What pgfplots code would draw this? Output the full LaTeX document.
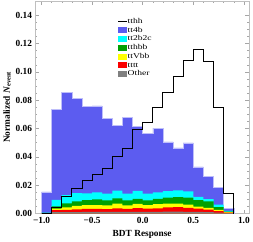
\documentclass[border=0pt]{standalone}
\usepackage{fontspec}
\setmainfont{Liberation Serif}
\usepackage{pgfplots}
\pgfplotsset{compat=1.18}
\definecolor{cBlue}{RGB}{92,92,240}
\definecolor{cBlueEdge}{RGB}{190,190,250}
\definecolor{cCyan}{RGB}{0,255,255}
\definecolor{cGreen}{RGB}{0,160,0}
\definecolor{cYellow}{RGB}{255,255,0}
\definecolor{cRed}{RGB}{250,0,0}
\definecolor{cGrey}{RGB}{128,128,128}
% cumulative tops of the stacked histogram, bins of width 0.1 (left edges)
\pgfplotstableread{
x     blue    cyan    green   yellow  red     other
-1.0  0.0152  0.0006  0.0004  0.0003  0.0002  0.0001
-0.9  0.0735  0.0097  0.0050  0.0034  0.0023  0.0009
-0.8  0.0857  0.0130  0.0072  0.0044  0.0025  0.0010
-0.7  0.0815  0.0143  0.0086  0.0053  0.0030  0.0010
-0.6  0.0757  0.0142  0.0095  0.0060  0.0032  0.0011
-0.5  0.0760  0.0150  0.0099  0.0060  0.0032  0.0011
-0.4  0.0672  0.0141  0.0093  0.0058  0.0031  0.0011
-0.3  0.0621  0.0162  0.0106  0.0069  0.0037  0.0012
-0.2  0.0677  0.0141  0.0093  0.0058  0.0032  0.0011
-0.1  0.0615  0.0160  0.0104  0.0068  0.0038  0.0012
0.0   0.0568  0.0140  0.0092  0.0060  0.0034  0.0011
0.1   0.0603  0.0150  0.0104  0.0066  0.0037  0.0012
0.2   0.0506  0.0158  0.0112  0.0069  0.0043  0.0013
0.3   0.0464  0.0163  0.0116  0.0070  0.0045  0.0013
0.4   0.0499  0.0157  0.0112  0.0062  0.0040  0.0012
0.5   0.0330  0.0118  0.0095  0.0048  0.0035  0.0011
0.6   0.0261  0.0102  0.0085  0.0040  0.0028  0.0009
0.7   0.0182  0.0062  0.0045  0.0025  0.0017  0.0006
0.8   0.0035  0.0018  0.0014  0.0009  0.0006  0.0003
0.9   0.0035  0.0018  0.0014  0.0009  0.0006  0.0003
}\hist
\begin{document}
\begin{tikzpicture}
\begin{axis}[
  scale only axis, width=217pt, height=216pt,
  xmin=-1.06, xmax=1.05, ymin=0, ymax=0.15,
  axis line style={draw=black!25},
  tick style={black!35, line width=0.4pt},
  major tick length=4pt, minor tick length=2pt,
  tick align=inside,
  xtick={-1,-0.5,0,0.5,1},
  xticklabels={−1.0,−0.5,0.0,0.5,1.0},
  minor x tick num=4,
  ytick={0,0.02,0.04,0.06,0.08,0.10,0.12,0.14},
  yticklabels={0.00,0.02,0.04,0.06,0.08,0.10,0.12,0.14},
  minor y tick num=3,
  ticklabel style={font=\bfseries\fontsize{9.5}{10}\selectfont},
  xlabel={\textbf{BDT Response}},
  ylabel={\textbf{Normalized \textit{N}\textsubscript{event}}},
  label style={font=\fontsize{9.5}{11}\selectfont},
  ylabel style={yshift=-2pt},
  legend style={at={(0.385,0.922)}, anchor=north west, draw=none, fill=none,
    font=\fontsize{7.5}{8}\selectfont, row sep=1.2pt, inner sep=0pt,
    nodes={inner sep=0.6pt, text height=5pt, text depth=1.5pt}},
  legend cell align=left,
  legend image code/.code={\fill[#1, draw=none] (0pt,-3pt) rectangle (8.5pt,3pt);},
]
\addlegendimage{legend image code/.code={\draw[black, line width=0.9pt] (0pt,0pt) -- (8.5pt,0pt);}}
\addlegendentry{\scalebox{1.3}[1]{tthh}}
\addlegendimage{fill=cBlue, draw=none}
\addlegendentry{\scalebox{1.3}[1]{tt4b}}
\addlegendimage{fill=cCyan, draw=none}
\addlegendentry{\scalebox{1.3}[1]{tt2b2c}}
\addlegendimage{fill=cGreen, draw=none}
\addlegendentry{\scalebox{1.3}[1]{tthbb}}
\addlegendimage{fill=cYellow, draw=none}
\addlegendentry{\scalebox{1.3}[1]{ttVbb}}
\addlegendimage{fill=cRed, draw=none}
\addlegendentry{\scalebox{1.3}[1]{tttt}}
\addlegendimage{fill=cGrey, draw=none}
\addlegendentry{\scalebox{1.3}[1]{Other}}

\addplot[forget plot, const plot mark left, fill=cBlue, draw=cBlueEdge, line width=0.5pt] table[x=x, y=blue] {\hist} \closedcycle;
\addplot[forget plot, const plot mark left, fill=cCyan, draw=none] table[x=x, y=cyan] {\hist} \closedcycle;
\addplot[forget plot, const plot mark left, fill=cGreen, draw=none] table[x=x, y=green] {\hist} \closedcycle;
\addplot[forget plot, const plot mark left, fill=cYellow, draw=none] table[x=x, y=yellow] {\hist} \closedcycle;
\addplot[forget plot, const plot mark left, fill=cRed, draw=none] table[x=x, y=red] {\hist} \closedcycle;
\addplot[forget plot, const plot mark left, fill=cGrey, draw=none] table[x=x, y=other] {\hist} \closedcycle;
\addplot[forget plot, const plot mark left, black, line width=0.9pt] coordinates {
(-1.0,0) (-0.9,0.0046) (-0.8,0.0122) (-0.7,0.0175) (-0.6,0.0233) (-0.5,0.0273)
(-0.4,0.0319) (-0.3,0.0405) (-0.2,0.0458) (-0.1,0.0590) (0.0,0.0641) (0.1,0.0747)
(0.2,0.0851) (0.3,0.0967) (0.4,0.1082) (0.5,0.1156) (0.6,0.1071) (0.7,0.0747)
(0.8,0.0141) (0.9,0) (0.9,0)};
\end{axis}
\path ([shift={(-33pt,-27pt)}]current axis.south west) rectangle ([shift={(3pt,1pt)}]current axis.north east);
\end{tikzpicture}
\end{document}
